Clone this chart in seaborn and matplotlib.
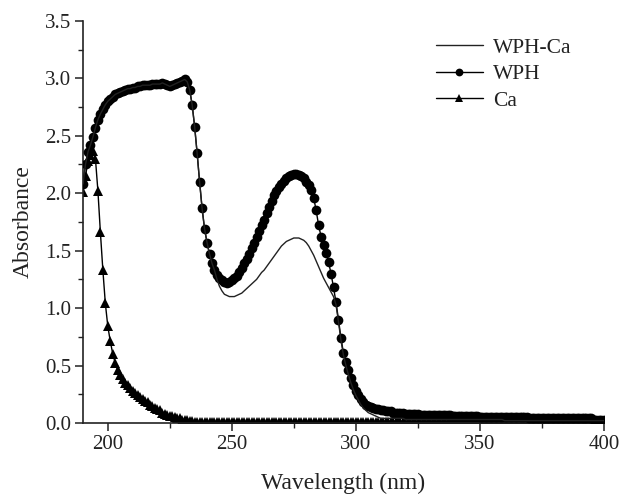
import numpy as np
import pandas as pd
import matplotlib
matplotlib.use("Agg")
import matplotlib.pyplot as plt
import seaborn as sns

# wavelength grid, 1 nm steps from 190 to 400
wavelength = np.arange(190, 401)

# WPH absorbance (190..400 nm)
wph = [
    2.08, 2.25, 2.36, 2.42, 2.49, 2.57, 2.64, 2.69, 2.73, 2.77,
    2.80, 2.82, 2.84, 2.86, 2.87, 2.88, 2.89, 2.90, 2.91, 2.91,
    2.92, 2.92, 2.93, 2.93, 2.94, 2.94, 2.94, 2.94, 2.95, 2.95,
    2.95, 2.95, 2.96, 2.95, 2.94, 2.93, 2.94, 2.95, 2.96, 2.97,
    2.98, 2.99, 2.97, 2.90, 2.77, 2.58, 2.35, 2.10, 1.87, 1.69,
    1.57, 1.47, 1.39, 1.33, 1.29, 1.26, 1.24, 1.23, 1.22, 1.23,
    1.24, 1.26, 1.28, 1.31, 1.35, 1.39, 1.43, 1.47, 1.52, 1.57,
    1.62, 1.67, 1.72, 1.77, 1.83, 1.88, 1.93, 1.98, 2.02, 2.05,
    2.08, 2.11, 2.13, 2.15, 2.16, 2.17, 2.17, 2.16, 2.15, 2.13,
    2.10, 2.07, 2.03, 1.96, 1.85, 1.72, 1.62, 1.55, 1.48, 1.40,
    1.30, 1.18, 1.05, 0.90, 0.74, 0.61, 0.53, 0.46, 0.39, 0.33,
    0.28, 0.24, 0.21, 0.18, 0.16, 0.15, 0.14, 0.13, 0.12, 0.12,
    0.11, 0.11, 0.10, 0.10, 0.10, 0.09, 0.09, 0.09, 0.09, 0.09,
    0.08, 0.08, 0.08, 0.08, 0.08, 0.08, 0.07, 0.07, 0.07, 0.07,
    0.07, 0.07, 0.07, 0.07, 0.07, 0.07, 0.07, 0.07, 0.07, 0.06,
    0.06, 0.06, 0.06, 0.06, 0.06, 0.06, 0.06, 0.06, 0.06, 0.06,
    0.05, 0.05, 0.05, 0.05, 0.05, 0.05, 0.05, 0.05, 0.05, 0.05,
    0.05, 0.05, 0.05, 0.05, 0.05, 0.05, 0.05, 0.05, 0.05, 0.05,
    0.04, 0.04, 0.04, 0.04, 0.04, 0.04, 0.04, 0.04, 0.04, 0.04,
    0.04, 0.04, 0.04, 0.04, 0.04, 0.04, 0.04, 0.04, 0.04, 0.04,
    0.04, 0.04, 0.04, 0.04, 0.04, 0.04, 0.03, 0.03, 0.03, 0.03,
    0.03,
]

# WPH-Ca absorbance (190..400 nm)
wph_ca = [
    2.08, 2.25, 2.36, 2.42, 2.49, 2.57, 2.64, 2.69, 2.73, 2.77,
    2.80, 2.82, 2.84, 2.86, 2.87, 2.88, 2.89, 2.90, 2.91, 2.91,
    2.92, 2.92, 2.93, 2.93, 2.94, 2.94, 2.94, 2.94, 2.95, 2.95,
    2.95, 2.95, 2.96, 2.95, 2.94, 2.93, 2.94, 2.95, 2.96, 2.97,
    2.98, 2.99, 2.97, 2.90, 2.77, 2.58, 2.35, 2.10, 1.87, 1.69,
    1.57, 1.47, 1.39, 1.33, 1.25, 1.19, 1.15, 1.12, 1.11, 1.10,
    1.10, 1.10, 1.11, 1.12, 1.13, 1.15, 1.17, 1.19, 1.21, 1.23,
    1.25, 1.28, 1.31, 1.33, 1.36, 1.39, 1.42, 1.45, 1.48, 1.51,
    1.54, 1.56, 1.58, 1.59, 1.60, 1.61, 1.61, 1.61, 1.60, 1.59,
    1.57, 1.54, 1.50, 1.46, 1.41, 1.36, 1.31, 1.26, 1.22, 1.18,
    1.14, 1.10, 1.03, 0.88, 0.72, 0.59, 0.50, 0.42, 0.35, 0.29,
    0.24, 0.20, 0.16, 0.13, 0.11, 0.09, 0.08, 0.07, 0.06, 0.05,
    0.04, 0.04, 0.04, 0.04, 0.04, 0.04, 0.04, 0.04, 0.04, 0.04,
    0.03, 0.03, 0.03, 0.03, 0.03, 0.03, 0.03, 0.03, 0.03, 0.03,
    0.03, 0.03, 0.03, 0.03, 0.03, 0.03, 0.03, 0.03, 0.03, 0.03,
    0.03, 0.03, 0.03, 0.03, 0.03, 0.03, 0.03, 0.03, 0.03, 0.03,
    0.03, 0.03, 0.03, 0.03, 0.03, 0.03, 0.03, 0.03, 0.03, 0.03,
    0.02, 0.02, 0.02, 0.02, 0.02, 0.02, 0.02, 0.02, 0.02, 0.02,
    0.02, 0.02, 0.02, 0.02, 0.02, 0.02, 0.02, 0.02, 0.02, 0.02,
    0.02, 0.02, 0.02, 0.02, 0.02, 0.02, 0.02, 0.02, 0.02, 0.02,
    0.02, 0.02, 0.02, 0.02, 0.02, 0.02, 0.02, 0.02, 0.02, 0.02,
    0.02,
]

# Ca absorbance (190..400 nm)
ca = [
    2.01, 2.15, 2.28, 2.33, 2.37, 2.30, 2.02, 1.66, 1.33, 1.04,
    0.84, 0.71, 0.60, 0.52, 0.46, 0.42, 0.38, 0.35, 0.33, 0.30,
    0.28, 0.26, 0.24, 0.23, 0.21, 0.19, 0.18, 0.16, 0.15, 0.13,
    0.12, 0.11, 0.09, 0.08, 0.07, 0.06, 0.06, 0.05, 0.04, 0.04,
    0.03, 0.03, 0.03, 0.02, 0.02, 0.01, 0.01, 0.01, 0.01, 0.01,
    0.01, 0.01, 0.01, 0.01, 0.01, 0.01, 0.01, 0.01, 0.01, 0.01,
    0.01, 0.01, 0.01, 0.01, 0.01, 0.01, 0.01, 0.01, 0.01, 0.01,
    0.01, 0.01, 0.01, 0.01, 0.01, 0.01, 0.01, 0.01, 0.01, 0.01,
    0.01, 0.01, 0.01, 0.01, 0.01, 0.01, 0.01, 0.01, 0.01, 0.01,
    0.01, 0.01, 0.01, 0.01, 0.01, 0.01, 0.01, 0.01, 0.01, 0.01,
    0.01, 0.01, 0.01, 0.01, 0.01, 0.01, 0.01, 0.01, 0.01, 0.01,
    0.01, 0.01, 0.01, 0.01, 0.01, 0.01, 0.01, 0.01, 0.01, 0.01,
    0.01, 0.01, 0.01, 0.01, 0.01, 0.01, 0.01, 0.01, 0.01, 0.01,
    0.01, 0.01, 0.01, 0.01, 0.01, 0.01, 0.01, 0.01, 0.01, 0.01,
    0.01, 0.01, 0.01, 0.01, 0.01, 0.01, 0.01, 0.01, 0.01, 0.01,
    0.01, 0.01, 0.01, 0.01, 0.01, 0.01, 0.01, 0.01, 0.01, 0.01,
    0.01, 0.01, 0.01, 0.01, 0.01, 0.01, 0.01, 0.01, 0.01, 0.01,
    0.01, 0.01, 0.01, 0.01, 0.01, 0.01, 0.01, 0.01, 0.01, 0.01,
    0.01, 0.01, 0.01, 0.01, 0.01, 0.01, 0.01, 0.01, 0.01, 0.01,
    0.01, 0.01, 0.01, 0.01, 0.01, 0.01, 0.01, 0.01, 0.01, 0.01,
    0.01, 0.01, 0.01, 0.01, 0.01, 0.01, 0.01, 0.01, 0.01, 0.01,
    0.01,
]

x_ticks = [200, 250, 300, 350, 400]
y_ticks = [0.0, 0.5, 1.0, 1.5, 2.0, 2.5, 3.0, 3.5]

df = pd.DataFrame({'Wavelength': wavelength, 'WPH-Ca': wph_ca, 'WPH': wph, 'Ca': ca})

sns.set_style('ticks')
plt.rcParams['font.family'] = ['Liberation Serif', 'DejaVu Serif']

fig = plt.figure(figsize=(6.29, 4.97), dpi=100)
ax = fig.add_axes([0.132, 0.149, 0.828, 0.809])

sns.lineplot(data=df, x='Wavelength', y='Ca', ax=ax, color='black', lw=1.0,
             marker='^', markersize=7, markeredgewidth=0, label='Ca', zorder=2)
sns.lineplot(data=df, x='Wavelength', y='WPH', ax=ax, color='black', lw=1.0,
             marker='o', markersize=7, markeredgewidth=0, label='WPH', zorder=3)
sns.lineplot(data=df, x='Wavelength', y='WPH-Ca', ax=ax, color='#222222', lw=1.0,
             label='WPH-Ca', zorder=4)

ax.set_xlim(190, 400)
ax.set_ylim(0, 3.5)
ax.set_xticks(x_ticks)
ax.set_yticks(y_ticks)
ax.set_yticklabels([f'{v:.1f}' for v in y_ticks])
ax.set_xticks(np.arange(200, 401, 25), minor=True)
ax.set_yticks(np.arange(0, 3.51, 0.25), minor=True)
ax.tick_params(which='major', direction='out', length=6, width=1.1, labelsize=15,
               pad=2.5, colors='#222222')
ax.tick_params(which='minor', direction='out', length=3.5, width=1.0, colors='#222222')
sns.despine(ax=ax)
for s in ['left', 'bottom']:
    ax.spines[s].set_linewidth(1.2)
    ax.spines[s].set_color('#222222')

ax.set_xlabel('Wavelength (nm)', fontsize=17, labelpad=14, color='#222222')
ax.set_ylabel('Absorbance', fontsize=17, labelpad=8, color='#222222')

h, l = ax.get_legend_handles_labels()
order = [l.index('WPH-Ca'), l.index('WPH'), l.index('Ca')]
leg = ax.legend([h[i] for i in order], [l[i] for i in order], loc='upper left',
                bbox_to_anchor=(0.677, 0.958), frameon=False, fontsize=15.5,
                handlelength=2.2, handletextpad=0.45, labelspacing=0.3,
                borderpad=0, borderaxespad=0, numpoints=1, markerscale=0.8)
for t in leg.get_texts():
    t.set_color('#222222')

plt.savefig('out.png', dpi=100)
